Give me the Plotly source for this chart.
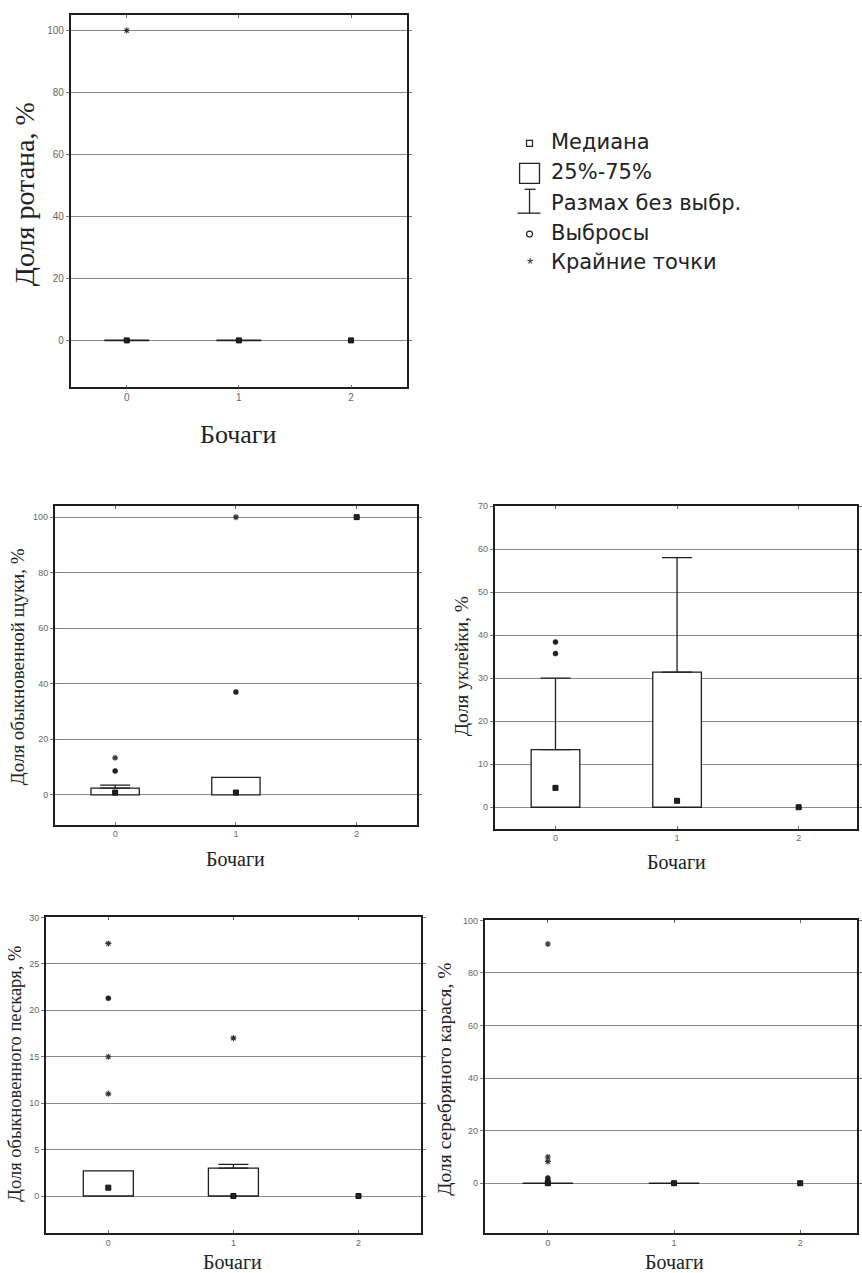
import plotly.graph_objects as go

W, H = 862, 1273

# ---------------- data ----------------
cats = [0, 1, 2]
cat_labels = ["0", "1", "2"]
x_title = "Бочаги"

# Panel 1: Доля ротана
p1_q1 = [0, 0, None]
p1_q3 = [0, 0, None]
p1_med = [0, 0, 0]
p1_whisk = [None, None, None]
p1_out_x, p1_out_y = [], []
p1_ext_x, p1_ext_y = [0], [100]

# Panel 2: Доля обыкновенной щуки
p2_q1 = [0, 0, None]
p2_q3 = [2.4, 6.3, None]
p2_med = [0.8, 0.8, 100]
p2_whisk = [3.5, None, None]
p2_out_x, p2_out_y = [0, 1], [8.6, 37]
p2_ext_x, p2_ext_y = [0, 1], [13.3, 100]

# Panel 3: Доля уклейки
p3_q1 = [0, 0, None]
p3_q3 = [13.4, 31.4, None]
p3_med = [4.5, 1.5, 0]
p3_whisk = [30, 58, None]
p3_out_x, p3_out_y = [0, 0], [35.7, 38.4]
p3_ext_x, p3_ext_y = [], []

# Panel 4: Доля обыкновенного пескаря
p4_q1 = [0, 0, None]
p4_q3 = [2.7, 3.0, None]
p4_med = [0.9, 0, 0]
p4_whisk = [None, 3.4, None]
p4_out_x, p4_out_y = [0], [21.3]
p4_ext_x, p4_ext_y = [0, 0, 0, 1], [11, 15, 27.2, 17]

# Panel 5: Доля серебряного карася
p5_q1 = [0, 0, None]
p5_q3 = [0, 0, None]
p5_med = [0, 0, 0]
p5_whisk = [None, None, None]
p5_out_x, p5_out_y = [0, 0], [1.0, 2.0]
p5_ext_x, p5_ext_y = [0, 0, 0], [8.3, 10, 91]

y_titles = ["Доля ротана, %", "Доля обыкновенной щуки, %", "Доля уклейки, %",
            "Доля обыкновенного пескаря, %", "Доля серебряного карася, %"]
legend_labels = ["Медиана", "25%-75%", "Размах без выбр.", "Выбросы", "Крайние точки"]

# ---------------- layout helpers ----------------
def fx(p):
    return p / W

def fy(p):
    return 1 - p / H

panels = [
    dict(q1=p1_q1, q3=p1_q3, med=p1_med, wh=p1_whisk, ox=p1_out_x, oy=p1_out_y, ex=p1_ext_x, ey=p1_ext_y,
         dom=(71, 409, 10, 384), yr=[-15.2, 105], xr=[-0.5, 2.5], ticks=[0, 20, 40, 60, 80, 100],
         yt=(24, 190, 28), xt=(240, 431, 26), tf=10),
    dict(q1=p2_q1, q3=p2_q3, med=p2_med, wh=p2_whisk, ox=p2_out_x, oy=p2_out_y, ex=p2_ext_x, ey=p2_ext_y,
         dom=(55, 419, 503, 823), yr=[-10.8, 104], xr=[-0.5, 2.5], ticks=[0, 20, 40, 60, 80, 100],
         yt=(17, 664, 19), xt=(237, 857, 20), tf=9),
    dict(q1=p3_q1, q3=p3_q3, med=p3_med, wh=p3_whisk, ox=p3_out_x, oy=p3_out_y, ex=p3_ext_x, ey=p3_ext_y,
         dom=(497, 861, 503, 827), yr=[-5, 70], xr=[-0.5, 2.48], ticks=[0, 10, 20, 30, 40, 50, 60, 70],
         yt=(464, 664, 19.5), xt=(680, 860, 20), tf=9),
    dict(q1=p4_q1, q3=p4_q3, med=p4_med, wh=p4_whisk, ox=p4_out_x, oy=p4_out_y, ex=p4_ext_x, ey=p4_ext_y,
         dom=(46, 423, 916, 1233), yr=[-4, 30], xr=[-0.5, 2.5], ticks=[0, 5, 10, 15, 20, 25, 30],
         yt=(15, 1073, 18.5), xt=(234, 1262, 20), tf=9),
    dict(q1=p5_q1, q3=p5_q3, med=p5_med, wh=p5_whisk, ox=p5_out_x, oy=p5_out_y, ex=p5_ext_x, ey=p5_ext_y,
         dom=(487, 861, 919, 1233), yr=[-19, 100], xr=[-0.5, 2.45], ticks=[0, 20, 40, 60, 80, 100],
         yt=(447, 1078, 19.5), xt=(678, 1262, 20), tf=9),
]

fig = go.Figure()
annotations = []
shapes = []
layout_axes = {}

SERIF = "Liberation Serif, Times New Roman, serif"
SANS = "Liberation Sans, Arial, sans-serif"
LEGF = "DejaVu Sans, Arial, sans-serif"
INK = "#1e1e1e"

for i, p in enumerate(panels):
    n = i + 1
    xa = "x" if n == 1 else f"x{n}"
    ya = "y" if n == 1 else f"y{n}"
    # IQR boxes (non-collapsed) as bars
    bx, bb, bh = [], [], []
    cx, cv = [], []
    for c, a, b in zip(cats, p["q1"], p["q3"]):
        if a is None or b is None:
            continue
        if b > a:
            bx.append(c); bb.append(a); bh.append(b - a)
        else:
            cx.append(c); cv.append(a)
    if bx:
        fig.add_trace(go.Bar(x=bx, y=bh, base=bb, width=0.4, xaxis=xa, yaxis=ya,
                             marker=dict(color="white", line=dict(color=INK, width=1.3))))
    if cx:
        fig.add_trace(go.Box(x=cx, q1=cv, median=cv, q3=cv, lowerfence=cv, upperfence=cv,
                             width=0.4, xaxis=xa, yaxis=ya, fillcolor="white",
                             line=dict(color=INK, width=1.6), hoverinfo="skip"))
    # whiskers
    wx, wy, wp = [], [], []
    for c, b, w in zip(cats, p["q3"], p["wh"]):
        if w is not None and b is not None:
            wx.append(c); wy.append(b); wp.append(w - b)
    if wx:
        fig.add_trace(go.Scatter(x=wx, y=wy, mode="markers", xaxis=xa, yaxis=ya,
                                 marker=dict(size=1, opacity=0),
                                 error_y=dict(type="data", array=wp, arrayminus=[0] * len(wp),
                                              symmetric=False, width=15, thickness=1.3, color=INK)))
    # medians
    fig.add_trace(go.Scatter(x=cats, y=p["med"], mode="markers", xaxis=xa, yaxis=ya,
                             marker=dict(symbol="square", size=5, color="#222",
                                         line=dict(color="#111", width=1))))
    # outliers
    if p["ox"]:
        fig.add_trace(go.Scatter(x=p["ox"], y=p["oy"], mode="markers", xaxis=xa, yaxis=ya,
                                 marker=dict(symbol="circle", size=5, color="#222",
                                             line=dict(color="#111", width=0.5))))
    # extremes
    if p["ex"]:
        fig.add_trace(go.Scatter(x=p["ex"], y=p["ey"], mode="markers", xaxis=xa, yaxis=ya,
                                 marker=dict(symbol="asterisk-open", size=5, color="#333",
                                             line=dict(color="#333", width=1.1))))

    x0, x1, y0, y1 = p["dom"]
    xkey = "xaxis" if n == 1 else f"xaxis{n}"
    ykey = "yaxis" if n == 1 else f"yaxis{n}"
    layout_axes[xkey] = dict(domain=[fx(x0), fx(x1)], range=p["xr"], anchor=ya,
                             tickmode="array", tickvals=cats, ticktext=cat_labels,
                             showgrid=False, zeroline=False, showline=True, linecolor=INK,
                             linewidth=1.6, mirror="ticks", ticks="inside", ticklen=3,
                             tickcolor="#666", tickfont=dict(family=SANS, size=p["tf"], color="#666"),
                             fixedrange=True)
    layout_axes[ykey] = dict(domain=[fy(y1), fy(y0)], range=p["yr"], anchor=xa,
                             tickmode="array", tickvals=p["ticks"],
                             showgrid=True, gridcolor="#8a8a8a", gridwidth=1,
                             zeroline=False, showline=True, linecolor=INK, linewidth=1.6,
                             mirror="ticks", ticks="outside", ticklen=3, tickcolor="#777",
                             tickfont=dict(family=SANS, size=p["tf"], color="#666"),
                             fixedrange=True)
    tx, ty, ts = p["yt"]
    annotations.append(dict(text=y_titles[i], x=fx(tx), y=fy(ty), xref="paper", yref="paper",
                            textangle=-90, showarrow=False, xanchor="center", yanchor="middle",
                            font=dict(family=SERIF, size=ts, color="#222")))
    tx, ty, ts = p["xt"]
    annotations.append(dict(text=x_title, x=fx(tx), y=fy(ty), xref="paper", yref="paper",
                            showarrow=False, xanchor="center", yanchor="middle",
                            font=dict(family=SERIF, size=ts, color="#222")))

# ---------------- legend (drawn) ----------------
leg_y = [138, 168, 199, 229, 258]
for lab, ly in zip(legend_labels, leg_y):
    annotations.append(dict(text=lab, x=fx(552), y=fy(ly), xref="paper", yref="paper",
                            showarrow=False, xanchor="left", yanchor="middle",
                            font=dict(family=LEGF, size=21, color="#222")))
lk = dict(xref="paper", yref="paper")
shapes.append(dict(type="rect", x0=fx(529), x1=fx(535), y0=fy(142), y1=fy(136),
                   line=dict(color="#222", width=1.2), **lk))
shapes.append(dict(type="rect", x0=fx(522), x1=fx(542), y0=fy(179), y1=fy(159),
                   line=dict(color="#222", width=1.3), **lk))
shapes.append(dict(type="line", x0=fx(532), x1=fx(532), y0=fy(185), y1=fy(209),
                   line=dict(color="#222", width=1.3), **lk))
shapes.append(dict(type="line", x0=fx(527), x1=fx(538), y0=fy(185), y1=fy(185),
                   line=dict(color="#222", width=1.3), **lk))
shapes.append(dict(type="line", x0=fx(520), x1=fx(543), y0=fy(209), y1=fy(209),
                   line=dict(color="#222", width=1.3), **lk))
shapes.append(dict(type="circle", x0=fx(529), x1=fx(535), y0=fy(233), y1=fy(227),
                   line=dict(color="#222", width=1.2), **lk))
annotations.append(dict(text="*", x=fx(532), y=fy(261), xref="paper", yref="paper",
                        showarrow=False, xanchor="center", yanchor="middle",
                        font=dict(family=SANS, size=16, color="#333")))

fig.update_layout(width=W, height=H, margin=dict(l=0, r=0, t=0, b=0),
                  paper_bgcolor="white", plot_bgcolor="white", showlegend=False,
                  barmode="overlay", annotations=annotations, shapes=shapes, **layout_axes)

fig.write_html("out.html", config={"displayModeBar": False},
               post_script="document.body.style.margin='0px';")
